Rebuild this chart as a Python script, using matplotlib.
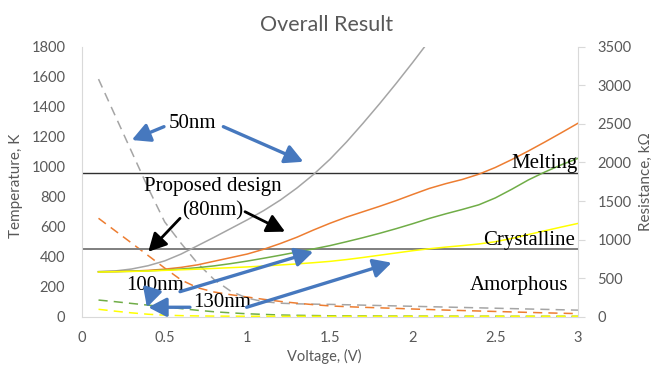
import matplotlib
matplotlib.use("Agg")
from matplotlib import pyplot as plt

# sample voltages (V)
volts = [0.1, 0.2, 0.3, 0.4, 0.5, 0.6, 0.7, 0.8, 0.9, 1.0,
         1.1, 1.2, 1.3, 1.4, 1.5, 1.6, 1.7, 1.8, 1.9, 2.0,
         2.1, 2.2, 2.3, 2.4, 2.5, 2.6, 2.7, 2.8, 2.9, 3.0]

# temperature, K (solid lines)
temp_50 = [300, 305, 318, 340, 372, 418, 474, 530, 588, 646,
           708, 778, 858, 948, 1050, 1165, 1290, 1420, 1555, 1695, 1840]
temp_80 = [300, 301, 304, 309, 317, 329, 346, 370, 394, 418,
           450, 488, 530, 578, 623, 664, 700, 736, 774, 815,
           855, 887, 915, 950, 995, 1048, 1105, 1165, 1227, 1290]
temp_100 = [300, 301, 303, 306, 311, 318, 327, 339, 354, 371,
            390, 410, 431, 452, 474, 500, 527, 556, 587, 620,
            655, 686, 715, 746, 792, 850, 912, 965, 1013, 1056]
temp_130 = [298, 300, 302, 305, 309, 313, 317, 322, 327, 332,
            338, 345, 352, 360, 369, 381, 395, 410, 425, 440,
            453, 464, 474, 485, 500, 522, 548, 573, 598, 622]

# resistance, kOhm (dashed lines)
res_50 = [3080, 2610, 2140, 1670, 1230, 950, 690, 480, 330, 240,
          195, 175, 167, 163, 160, 155, 150, 145, 140, 135,
          130, 125, 120, 115, 110, 105, 100, 95, 90, 85]
res_80 = [1276, 1115, 955, 793, 631, 476, 375, 320, 285, 255,
          225, 198, 176, 156, 140, 130, 122, 115, 108, 100,
          93, 86, 80, 74, 68, 62, 56, 50, 45, 40]
res_100 = [216, 195, 172, 150, 128, 105, 83, 64, 50, 38,
           30, 22, 18, 15, 12, 11, 10, 9, 8, 8,
           7, 7, 6, 6, 6, 5, 5, 5, 5, 5]
res_130 = [96, 72, 50, 32, 20, 14, 10, 8, 7, 6,
           6, 5, 5, 5, 5, 5, 5, 5, 5, 5,
           5, 5, 5, 5, 5, 5, 5, 5, 5, 5]

melting_temp = 960
crystal_temp = 450

colors = ["#A5A5A5", "#ED7D31", "#70AD47", "#FFFF00"]
temps = [temp_50, temp_80, temp_100, temp_130]
resists = [res_50, res_80, res_100, res_130]

gray_txt = "#595959"
spine_col = "#D9D9D9"
blue = "#4678BE"
sans = "Lato"
serif = "Liberation Serif"

fig = plt.figure(figsize=(6.59, 3.65), dpi=100)
ax = fig.add_axes([0.1244, 0.1323, 0.7527, 0.7397])
ax2 = ax.twinx()

for c, t in zip(colors, temps):
    ax.plot(volts[:len(t)], t, color=c, lw=1.1, zorder=3)
for c, r in zip(colors, resists):
    ax2.plot(volts, r, color=c, lw=1.1, dashes=(6, 4))

ax.axhline(melting_temp, color="#303030", lw=1.0, zorder=2)
ax.axhline(crystal_temp, color="#7F7F7F", lw=1.4, zorder=2)

ax.set_xlim(0, 3)
ax.set_ylim(0, 1800)
ax2.set_ylim(0, 3500)
ax.set_xticks([0, 0.5, 1, 1.5, 2, 2.5, 3])
ax.set_xticklabels(["0", "0.5", "1", "1.5", "2", "2.5", "3"])
ax.set_yticks(range(0, 1801, 200))
ax2.set_yticks(range(0, 3501, 500))

# temperature axis on top so the notes sit above every curve
ax.set_zorder(ax2.get_zorder() + 1)
ax.patch.set_visible(False)

for a in (ax, ax2):
    for s in a.spines.values():
        s.set_color(spine_col)
    a.spines["top"].set_visible(False)
ax.spines["right"].set_visible(False)
ax2.spines["left"].set_visible(False)
ax2.spines["bottom"].set_visible(False)

ax.tick_params(axis="both", length=0, labelsize=10.5, labelcolor=gray_txt)
ax.tick_params(axis="y", pad=12)
ax.tick_params(axis="x", pad=10)
ax2.tick_params(axis="y", length=5, color=spine_col, labelsize=10.5,
                labelcolor=gray_txt, pad=9)
for lab in ax.get_xticklabels() + ax.get_yticklabels() + ax2.get_yticklabels():
    lab.set_family(sans)

ax.set_xlabel("Voltage, (V)", fontsize=10.5, color=gray_txt, family=sans)
ax.xaxis.set_label_coords(0.488, -0.118)
ax.set_ylabel("Temperature, K", fontsize=11, color=gray_txt, family=sans)
ax.yaxis.set_label_coords(-0.118, 0.485)
ax2.set_ylabel("Resistance, kΩ", fontsize=11, color=gray_txt, family=sans, labelpad=5)
fig.text(0.495, 0.932, "Overall Result", ha="center", va="center",
         fontsize=15.5, color=gray_txt, family=sans)

# region and size notes
note = dict(fontsize=15, family=serif, color="black", zorder=5)
ax.text(0.67, 1285, "50nm", ha="center", va="center", **note)
ax.text(0.79, 871, "Proposed design", ha="center", va="center", **note)
ax.text(0.79, 704, "(80nm)", ha="center", va="center", **note)
ax.text(3.0, 1024, "Melting", ha="right", va="center", **note)
ax.text(2.98, 511, "Crystalline", ha="right", va="center", **note)
ax.text(2.94, 211, "Amorphous", ha="right", va="center", **note)
ax.text(0.44, 205, "100nm", ha="center", va="center", **note)
ax.text(0.85, 98, "130nm", ha="center", va="center", **note)


def arrow(tail, tip, color, lw):
    ax.annotate("", xy=tip, xytext=tail, zorder=6,
                arrowprops=dict(arrowstyle="-|>,head_length=0.42,head_width=0.22",
                                mutation_scale=26, lw=lw, color=color,
                                shrinkA=0, shrinkB=0))


arrow((0.496, 1267), (0.301, 1178), blue, 2.4)
arrow((0.855, 1267), (1.339, 1033), blue, 2.4)
arrow((0.593, 167), (1.399, 433), blue, 2.4)
arrow((0.42, 158), (0.393, 62), blue, 2.4)
arrow((0.653, 63), (0.401, 63), blue, 2.4)
arrow((0.996, 63), (1.873, 360), blue, 2.4)
arrow((0.593, 656), (0.401, 433), "black", 2.0)
arrow((0.986, 700), (1.228, 567), "black", 2.0)

fig.savefig("out.png", dpi=100)
